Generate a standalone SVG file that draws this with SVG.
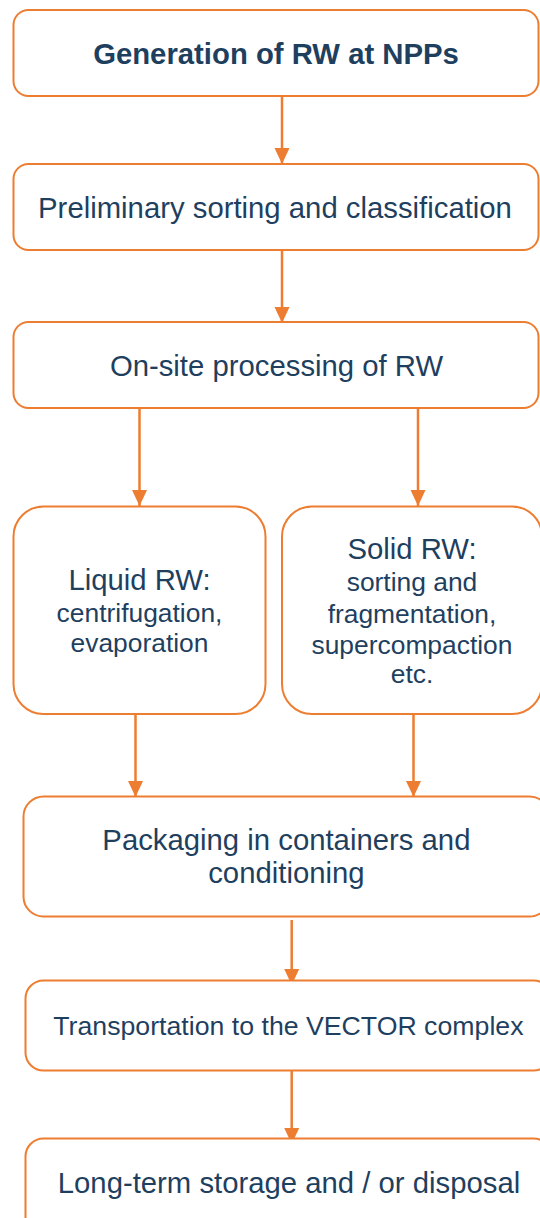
<svg xmlns="http://www.w3.org/2000/svg" width="540" height="1218" viewBox="0 0 540 1218">
<style>
.box{fill:#FFFFFF;stroke:#ED7D31;stroke-width:2}
.t{font-family:"Liberation Sans",Arial,sans-serif;fill:#1F3F5F;text-anchor:middle}
.l{font-size:29.3px}
.s{font-size:26.4px}
.b{font-weight:bold}
.c{stroke:#ED7D31;stroke-width:2.5;fill:none}
</style>
<defs>
<marker id="ah" markerUnits="userSpaceOnUse" markerWidth="16" markerHeight="16" refX="16" refY="8" orient="auto">
<path d="M0,0.5 L16,8 L0,15.5 z" fill="#ED7D31"/>
</marker>
</defs>
<rect width="540" height="1218" fill="#FFFFFF"/>
<g id="connectors">
<path class="c" d="M282,96 V164" marker-end="url(#ah)"/>
<path class="c" d="M282,250 V323" marker-end="url(#ah)"/>
<path class="c" d="M139.5,408 V506" marker-end="url(#ah)"/>
<path class="c" d="M418,408 V506" marker-end="url(#ah)"/>
<path class="c" d="M135.5,714 V797" marker-end="url(#ah)"/>
<path class="c" d="M413.5,714 V797" marker-end="url(#ah)"/>
<path class="c" d="M291.7,920 V985" marker-end="url(#ah)"/>
<path class="c" d="M291.7,1071 V1144" marker-end="url(#ah)"/>
</g>
<g id="n1">
<rect class="box" x="13.5" y="10" width="525" height="86" rx="15"/>
<text class="t l b" x="276" y="64">Generation of RW at NPPs</text>
</g>
<g id="n2">
<rect class="box" x="13.5" y="164" width="525" height="86" rx="15"/>
<text class="t l" x="275" y="218">Preliminary sorting and classification</text>
</g>
<g id="n3">
<rect class="box" x="13.5" y="322" width="525" height="86" rx="15"/>
<text class="t l" x="276.5" y="376">On-site processing of RW</text>
</g>
<g id="n4">
<rect class="box" x="13.5" y="506.5" width="252" height="207.5" rx="30"/>
<text class="t l" x="139.5" y="590">Liquid RW:</text>
<text class="t s" x="139.5" y="621.5">centrifugation,</text>
<text class="t s" x="139.5" y="651.5">evaporation</text>
</g>
<g id="n5">
<rect class="box" x="282" y="506.5" width="260" height="207.5" rx="30"/>
<text class="t l" x="412" y="559">Solid RW:</text>
<text class="t s" x="412" y="591">sorting and</text>
<text class="t s" x="412" y="622.5">fragmentation,</text>
<text class="t s" x="412" y="653.5">supercompaction</text>
<text class="t s" x="412" y="683">etc.</text>
</g>
<g id="n6">
<rect class="box" x="23.5" y="796.5" width="526" height="120" rx="20"/>
<text class="t l" x="286.4" y="850">Packaging in containers and</text>
<text class="t l" x="286.4" y="883">conditioning</text>
</g>
<g id="n7">
<rect class="box" x="25.5" y="980.5" width="526" height="90" rx="18"/>
<text class="t" style="font-size:26.7px" x="288.4" y="1035">Transportation to the VECTOR complex</text>
</g>
<g id="n8">
<rect class="box" x="25.5" y="1138.5" width="526" height="100" rx="18"/>
<text class="t l" x="289" y="1193">Long-term storage and / or disposal</text>
</g>
</svg>
